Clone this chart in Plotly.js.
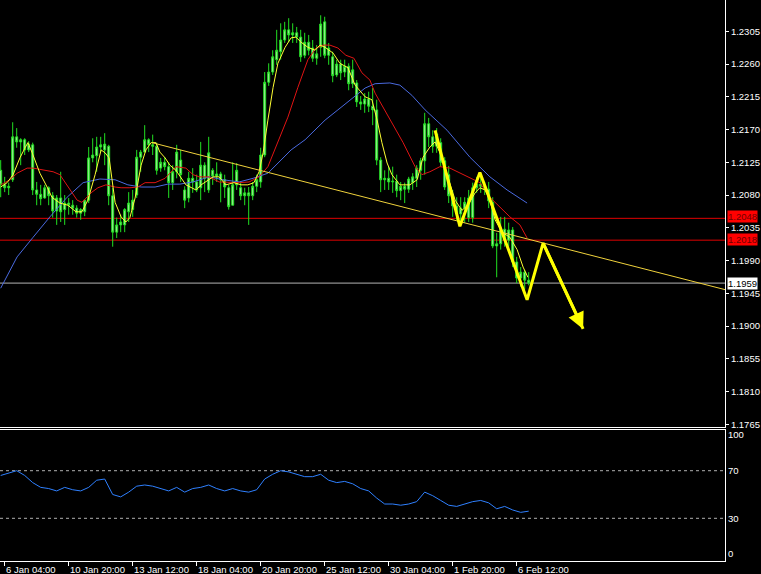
<!DOCTYPE html>
<html>
<head>
<meta charset="utf-8">
<script src="https://cdn.plot.ly/plotly-3.0.1.min.js"></script>
<style>html,body{margin:0;padding:0;background:#000;overflow:hidden}</style>
</head>
<body>
<div id="chart" style="width:761px;height:574px"></div>
<script>
// ---------- DATA (H4 bars) ----------
const open = [1.2114,1.2094,1.2090,1.2101,1.2160,1.2153,1.2156,1.2142,1.2149,1.2087,
1.2081,1.2076,1.2090,1.2079,1.2058,1.2076,1.2060,1.2069,1.2066,1.2062,
1.2055,1.2057,1.2073,1.2131,1.2134,1.2146,1.2142,1.2147,1.2079,1.2029,
1.2039,1.2039,1.2057,1.2060,1.2080,1.2132,1.2139,1.2156,1.2149,1.2147,
1.2117,1.2125,1.2119,1.2097,1.2112,1.2128,1.2087,1.2076,1.2103,1.2098,
1.2090,1.2121,1.2087,1.2114,1.2106,1.2109,1.2101,1.2090,1.2066,1.2094,
1.2090,1.2079,1.2083,1.2079,1.2092,1.2098,1.2135,1.2235,1.2249,1.2266,
1.2277,1.2293,1.2307,1.2300,1.2303,1.2297,1.2272,1.2290,1.2282,1.2268,
1.2283,1.2318,1.2272,1.2270,1.2245,1.2260,1.2249,1.2257,1.2233,1.2234,
1.2208,1.2205,1.2212,1.2202,1.2197,1.2128,1.2101,1.2103,1.2098,1.2099,
1.2086,1.2092,1.2088,1.2097,1.2103,1.2114,1.2127,1.2178,1.2160,1.2147,
1.2152,1.2127,1.2108,1.2079,1.2065,1.2054,1.2062,1.2049,1.2049,1.2090,
1.2095,1.2092,1.2088,1.2070,1.2010,1.2013,1.2033,1.2018,1.2032,1.1988,
1.1966,1.1974,1.1963];
const high = [1.2128,1.2105,1.2097,1.2180,1.2172,1.2158,1.2158,1.2154,1.2152,1.2098,
1.2094,1.2094,1.2092,1.2084,1.2080,1.2112,1.2080,1.2076,1.2073,1.2066,
1.2062,1.2073,1.2146,1.2158,1.2160,1.2160,1.2165,1.2149,1.2090,1.2049,
1.2053,1.2062,1.2084,1.2087,1.2142,1.2142,1.2176,1.2158,1.2163,1.2152,
1.2131,1.2132,1.2125,1.2121,1.2149,1.2142,1.2092,1.2112,1.2117,1.2108,
1.2153,1.2125,1.2160,1.2117,1.2125,1.2112,1.2108,1.2094,1.2125,1.2124,
1.2098,1.2090,1.2091,1.2098,1.2108,1.2145,1.2249,1.2261,1.2279,1.2307,
1.2316,1.2318,1.2323,1.2316,1.2311,1.2307,1.2303,1.2300,1.2293,1.2286,
1.2327,1.2325,1.2289,1.2277,1.2266,1.2266,1.2266,1.2261,1.2266,1.2238,
1.2216,1.2220,1.2222,1.2227,1.2211,1.2132,1.2114,1.2119,1.2119,1.2108,
1.2098,1.2097,1.2105,1.2110,1.2121,1.2131,1.2193,1.2186,1.2169,1.2172,
1.2158,1.2132,1.2120,1.2087,1.2077,1.2077,1.2077,1.2087,1.2097,1.2105,
1.2105,1.2098,1.2098,1.2077,1.2028,1.2050,1.2050,1.2042,1.2036,1.1995,
1.1981,1.1977,1.1974];
const low = [1.2077,1.2084,1.2080,1.2098,1.2145,1.2121,1.2135,1.2139,1.2080,1.2066,
1.2066,1.2075,1.2066,1.2049,1.2039,1.2043,1.2039,1.2053,1.2053,1.2049,
1.2046,1.2051,1.2069,1.2125,1.2112,1.2139,1.2121,1.2066,1.2009,1.2021,
1.2029,1.2029,1.2043,1.2050,1.2076,1.2112,1.2139,1.2139,1.2135,1.2108,
1.2112,1.2114,1.2076,1.2087,1.2103,1.2098,1.2062,1.2070,1.2083,1.2084,
1.2073,1.2084,1.2083,1.2094,1.2098,1.2070,1.2076,1.2060,1.2066,1.2087,
1.2073,1.2066,1.2039,1.2073,1.2084,1.2090,1.2132,1.2230,1.2245,1.2259,
1.2266,1.2289,1.2290,1.2289,1.2289,1.2263,1.2268,1.2272,1.2263,1.2259,
1.2270,1.2268,1.2259,1.2235,1.2242,1.2238,1.2242,1.2224,1.2227,1.2201,
1.2197,1.2193,1.2194,1.2176,1.2121,1.2084,1.2087,1.2087,1.2083,1.2077,
1.2073,1.2069,1.2083,1.2087,1.2091,1.2101,1.2108,1.2146,1.2138,1.2138,
1.2119,1.2087,1.2069,1.2050,1.2046,1.2039,1.2042,1.2043,1.2042,1.2083,
1.2083,1.2080,1.2062,1.2007,1.1967,1.2005,1.2009,1.2009,1.1981,1.1959,
1.1954,1.1950,1.1956];
const close = [1.2094,1.2090,1.2092,1.2160,1.2153,1.2156,1.2142,1.2150,1.2087,1.2081,
1.2075,1.2090,1.2079,1.2058,1.2076,1.2057,1.2069,1.2066,1.2062,1.2055,
1.2060,1.2073,1.2131,1.2135,1.2146,1.2149,1.2150,1.2079,1.2029,1.2039,
1.2043,1.2060,1.2069,1.2073,1.2132,1.2139,1.2156,1.2149,1.2147,1.2114,
1.2125,1.2119,1.2097,1.2112,1.2139,1.2108,1.2073,1.2103,1.2098,1.2087,
1.2121,1.2103,1.2138,1.2106,1.2109,1.2101,1.2091,1.2064,1.2094,1.2114,
1.2079,1.2083,1.2079,1.2092,1.2101,1.2135,1.2235,1.2249,1.2270,1.2279,
1.2293,1.2307,1.2300,1.2303,1.2297,1.2270,1.2290,1.2279,1.2268,1.2274,
1.2315,1.2272,1.2282,1.2244,1.2260,1.2248,1.2257,1.2233,1.2252,1.2208,
1.2205,1.2212,1.2202,1.2197,1.2128,1.2101,1.2103,1.2098,1.2099,1.2086,
1.2092,1.2088,1.2102,1.2105,1.2117,1.2127,1.2178,1.2160,1.2147,1.2164,
1.2125,1.2091,1.2079,1.2065,1.2054,1.2062,1.2070,1.2076,1.2090,1.2095,
1.2092,1.2088,1.2072,1.2010,1.2013,1.2033,1.2018,1.2032,1.1988,1.1966,
1.1974,1.1963,1.1959];

// time-axis labels and the bar index they sit on
const timeLabels = ['6 Jan 04:00','10 Jan 20:00','13 Jan 12:00','18 Jan 04:00','20 Jan 20:00','25 Jan 12:00','30 Jan 04:00','1 Feb 20:00','6 Feb 12:00'];
const timeLabelBars = [1,17,33,49,65,81,97,113,129];

// price-axis ticks
const priceTicks = [1.2305,1.2260,1.2215,1.2170,1.2125,1.2080,1.2035,1.1990,1.1945,1.1900,1.1855,1.1810,1.1765];
const rsiTicks = [100,70,30,0];
const rsiLevels = [70,30];

// horizontal levels
const redLevels = [1.2048,1.2018];
const lastPrice = 1.1959;

// red moving average (bar index, price)
const redMaX = [0,2.3,4.1,6.6,8.1,10.6,13.1,14.8,16.6,19.1,20.3,21.6,22.8,24.3,26.3,28.6,30.1,32.3,34.3,36.1,38.6,41.1,43.8,46.3,48.1,49.6,52.1,54.6,57.1,59.6,62.1,64.6,66.8,69.3,71.8,74.3,76.8,78.8,80.6,82.3,84.3,86.3,88.3,90.3,92.3,93.6,95.6,97.8,100.6,103.6,105.3,107.3,109.8,112.3,114.8,117.3,119.8,122.3,124.8,127.3,129.8,131.6];
const redMaY = [1.2094,1.2101,1.2110,1.2117,1.2117,1.2114,1.2112,1.2108,1.2094,1.2073,1.2070,1.2077,1.2084,1.2090,1.2094,1.2091,1.2090,1.2090,1.2091,1.2097,1.2097,1.2103,1.2119,1.2117,1.2108,1.2105,1.2105,1.2098,1.2097,1.2097,1.2098,1.2105,1.2119,1.2152,1.2187,1.2228,1.2266,1.2282,1.2286,1.2286,1.2282,1.2272,1.2268,1.2248,1.2238,1.2220,1.2200,1.2180,1.2152,1.2119,1.2108,1.2112,1.2119,1.2117,1.2110,1.2103,1.2097,1.2077,1.2064,1.2050,1.2039,1.2021];

// blue moving average
const blueMaX = [0,4.1,8.1,12.3,16.6,20.6,24.8,28.6,31.8,35.1,38.6,41.8,44.8,48.1,52.1,55.6,59.6,63.1,66.8,69.3,72.6,76.1,79.3,81.1,84.3,88.3,91.1,93.6,97.3,99.8,102.8,106.1,111.6,117.3,122.3,126.6,131.6];
const blueMaY = [1.1952,1.1995,1.2022,1.2050,1.2077,1.2097,1.2102,1.2101,1.2094,1.2091,1.2091,1.2095,1.2095,1.2098,1.2105,1.2101,1.2098,1.2103,1.2110,1.2124,1.2142,1.2156,1.2173,1.2183,1.2197,1.2215,1.2227,1.2233,1.2234,1.2231,1.2217,1.2197,1.2169,1.2132,1.2105,1.2087,1.2069];

// fast (yellow) moving average
const fastMaX = [0,1.6,3.1,4.8,6.1,6.8,7.8,9.8,11.6,12.8,14.8,16.8,18.8,20.3,21.8,23.6,25.1,26.1,27.1,28.6,30.1,31.3,32.3,33.6,35.1,36.3,37.6,38.8,39.8,41.1,42.3,43.8,46.3,48.8,50.1,51.3,53.1,54.6,56.3,58.3,60.1,61.8,63.3,64.6,65.6,66.8,68.1,69.3,71.1,72.6,73.8,75.1,76.8,78.6,79.8,81.1,83.1,84.8,86.8,88.6,91.1,92.8,94.1,95.3,96.6,97.8,99.8,102.3,104.1,105.6,107.3,108.6,110.3,111.8,113.6,115.3,116.8,118.6,119.8,121.1,122.3,123.6,125.3,127.3,129.1,130.6,131.8];
const fastMaY = [1.2091,1.2097,1.2108,1.2131,1.2145,1.2152,1.2139,1.2110,1.2091,1.2077,1.2069,1.2066,1.2057,1.2057,1.2073,1.2108,1.2142,1.2138,1.2131,1.2070,1.2050,1.2043,1.2049,1.2076,1.2121,1.2142,1.2152,1.2152,1.2139,1.2131,1.2121,1.2114,1.2094,1.2087,1.2094,1.2098,1.2105,1.2105,1.2094,1.2097,1.2094,1.2094,1.2097,1.2112,1.2138,1.2183,1.2228,1.2261,1.2283,1.2296,1.2297,1.2290,1.2283,1.2279,1.2286,1.2283,1.2275,1.2261,1.2255,1.2231,1.2215,1.2211,1.2183,1.2152,1.2124,1.2108,1.2094,1.2094,1.2101,1.2132,1.2146,1.2153,1.2132,1.2105,1.2073,1.2059,1.2066,1.2083,1.2090,1.2087,1.2073,1.2046,1.2029,1.2022,1.2005,1.1981,1.1967];

// trend line and projected zigzag
const trendX = [37.8,181.1];
const trendY = [1.2152,1.1950];
const projX = [108.6,114.8,119.8,131.6,135.6,145.6];
const projY = [1.2169,1.2037,1.2111,1.1936,1.2014,1.1896];

// RSI, one value every 2 bars
const rsiVals = [66,68,70,66,60,56,55,53,56,54,53,56,62,63,50,48,52,57,58,57,55,53,56,52,55,56,58,55,53,55,53,52,54,63,67,70,69,67,65,65,67,62,60,61,59,55,53,47,42,42,41,42,44,52,49,45,41,40,42,44,45,43,38,40,37,35,36];

// ---------- CHART ----------
const FONT = 'Liberation Sans, Arial, sans-serif';
const barIdx = open.map((_, i) => i);
const rsiIdx = rsiVals.map((_, i) => i * 2);
const xRange = [-0.175, 181.075];

const traces = [
  {type:'scatter', mode:'lines', x:blueMaX, y:blueMaY, line:{color:'#4a6ae0', width:1}, hoverinfo:'skip'},
  {type:'scatter', mode:'lines', x:redMaX, y:redMaY, line:{color:'#e01414', width:1}, hoverinfo:'skip'},
  {type:'candlestick', x:barIdx, open:open, high:high, low:low, close:close,
   increasing:{line:{color:'#22e022', width:1}, fillcolor:'#a8f0a0'},
   decreasing:{line:{color:'#22e022', width:1}, fillcolor:'#a8f0a0'},
   whiskerwidth:0, hoverinfo:'skip', xaxis:'x', yaxis:'y'},
  {type:'scatter', mode:'lines', x:fastMaX, y:fastMaY, line:{color:'#ffff33', width:1}, hoverinfo:'skip'},
  {type:'scatter', mode:'lines', x:trendX, y:trendY, line:{color:'#f0d23c', width:1}, hoverinfo:'skip'},
  {type:'scatter', mode:'lines', x:projX, y:projY, line:{color:'#ffff00', width:3}, hoverinfo:'skip'},
  {type:'scatter', mode:'lines', x:rsiIdx, y:rsiVals, xaxis:'x2', yaxis:'y2', line:{color:'#2f80ff', width:1}, hoverinfo:'skip'}
];

const shapes = [];
redLevels.forEach(v => shapes.push({type:'line', xref:'paper', x0:0, x1:1, yref:'y', y0:v, y1:v, line:{color:'#e00000', width:1}, layer:'below'}));
shapes.push({type:'line', xref:'paper', x0:0, x1:1, yref:'y', y0:lastPrice, y1:lastPrice, line:{color:'#b4b4b4', width:1}, layer:'below'});
rsiLevels.forEach(v => shapes.push({type:'line', xref:'paper', x0:0, x1:1, yref:'y2', y0:v, y1:v, line:{color:'#b0b0b0', width:1, dash:'3px,3px'}, layer:'below'}));

const annotations = [];
redLevels.forEach((v, i) => annotations.push({xref:'paper', x:1, xanchor:'left', xshift:2, yref:'y', y:v, yanchor:'middle',
  yshift:(i === 0 ? 2 : 1), text:v.toFixed(4), showarrow:false, bgcolor:'#ff0000', borderpad:0,
  font:{family:FONT, size:9.5, color:'#700000'}}));
annotations.push({xref:'paper', x:1, xanchor:'left', xshift:2, yref:'y', y:lastPrice, yanchor:'middle',
  text:lastPrice.toFixed(4), showarrow:false, bgcolor:'#ffffff', borderpad:0, font:{family:FONT, size:9.5, color:'#000000'}});
timeLabels.forEach((t, i) => annotations.push({xref:'x2', x:timeLabelBars[i], xanchor:'left', xshift:-1, yref:'paper', y:-0.0143, yanchor:'middle',
  text:t, showarrow:false, font:{family:FONT, size:9.5, color:'#ffffff'}}));
// arrow head of the projected move
const n = projX.length;
annotations.push({xref:'x', yref:'y', x:projX[n-1], y:projY[n-1], axref:'x', ayref:'y', ax:projX[n-2], ay:projY[n-2],
  text:'', showarrow:true, arrowhead:2, arrowsize:1.1, arrowwidth:3, arrowcolor:'#ffff00'});

const layout = {
  width:761, height:574,
  paper_bgcolor:'#000000', plot_bgcolor:'#000000',
  margin:{l:0, r:36, t:0, b:13, pad:0},
  showlegend:false, hovermode:false, dragmode:false,
  font:{family:FONT, size:9.5, color:'#ffffff'},
  xaxis:{domain:[0,1], range:xRange, anchor:'y', showgrid:false, zeroline:false, showticklabels:false, ticks:'',
         showline:true, linecolor:'#ffffff', linewidth:1, rangeslider:{visible:false}, fixedrange:true},
  yaxis:{domain:[0.2389,1], range:[1.17613,1.2348], side:'right', anchor:'x', showgrid:false, zeroline:false,
         tickmode:'array', tickvals:priceTicks, ticktext:priceTicks.map(v=>v.toFixed(4)),
         ticks:'outside', ticklen:3, tickcolor:'#ffffff', showline:true, linecolor:'#ffffff', linewidth:1,
         tickfont:{family:FONT, size:9.5, color:'#ffffff'}, fixedrange:true},
  xaxis2:{domain:[0,1], range:xRange, anchor:'y2', showgrid:false, zeroline:false, showticklabels:false,
          tickmode:'array', tickvals:timeLabelBars, ticks:'outside', ticklen:4, tickcolor:'#ffffff',
          showline:true, mirror:true, linecolor:'#ffffff', linewidth:1, fixedrange:true},
  yaxis2:{domain:[0,0.2335], range:[-5.88,104.2], side:'right', anchor:'x2', showgrid:false, zeroline:false,
          tickmode:'array', tickvals:rsiTicks, ticks:'', showline:true, linecolor:'#ffffff', linewidth:1,
          tickfont:{family:FONT, size:9.5, color:'#ffffff'}, fixedrange:true},
  shapes:shapes, annotations:annotations
};

Plotly.newPlot('chart', traces, layout, {displayModeBar:false, staticPlot:true});
</script>
</body>
</html>
